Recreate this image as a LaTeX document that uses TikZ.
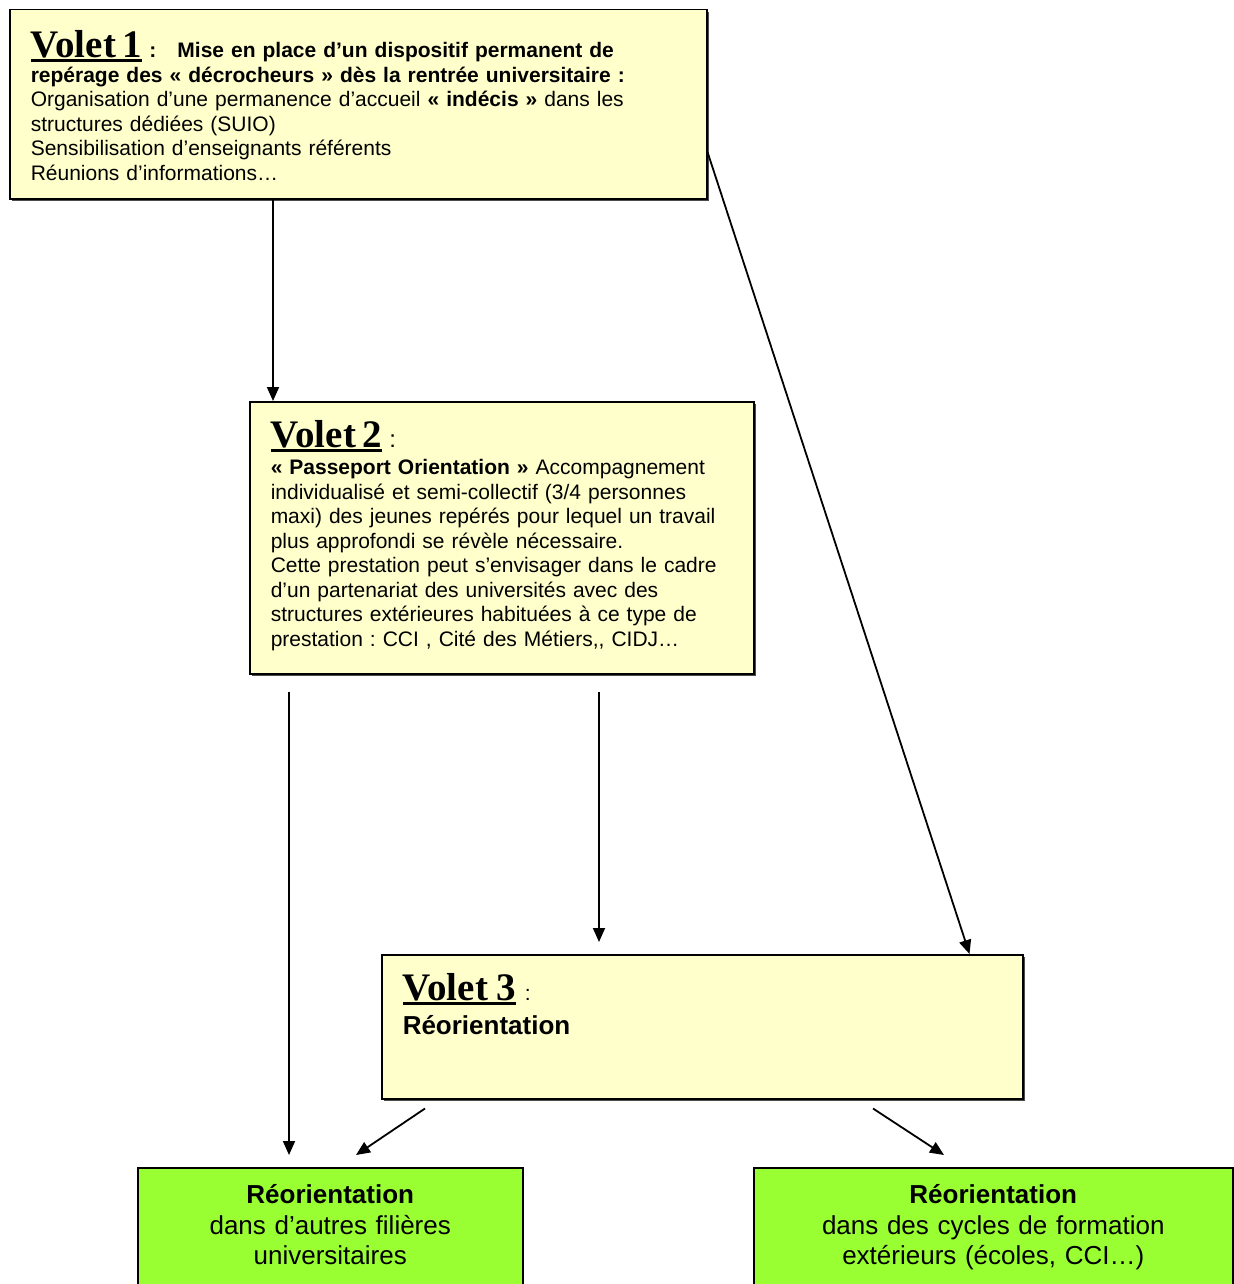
\documentclass[tikz,border=0pt]{standalone}
\usepackage{fontspec}
\setmainfont{Liberation Sans}
\newfontfamily\voletfont{Liberation Serif}
\usetikzlibrary{arrows.meta,shadows}
\definecolor{voletyellow}{HTML}{FFFFCC}
\definecolor{reogreen}{HTML}{99FF33}
\frenchspacing
% underlined serif heading of each "Volet"
\newcommand{\volettitle}[1]{\setbox0\hbox{\voletfont\bfseries\fontsize{19.5}{21}\selectfont #1}\rlap{\rule[-2pt]{\wd0}{1.35pt}}\box0}

\begin{document}
\begin{tikzpicture}[x=0.5pt, y=-0.5pt,
    volet/.style={draw=black, line width=0.75pt, fill=voletyellow, anchor=north west,
        inner xsep=10.5pt, inner ysep=0pt, align=left,
        font=\fontsize{10.5}{12.25}\selectfont,
        drop shadow={shadow xshift=0.9pt, shadow yshift=-0.9pt, fill=black, opacity=0.7}},
    reo/.style={draw=black, line width=0.75pt, fill=reogreen, anchor=north west,
        inner xsep=5pt, inner ysep=0pt, align=center,
        font=\fontsize{13}{15.25}\selectfont},
    arr/.style={-{Triangle[length=7pt,width=6pt]}, line width=0.9pt}]

    \useasboundingbox (0,0) rectangle (1233,1284);

    % Volet 1
    \node[volet, text width=327.5pt, text height=24pt, text depth=70.5pt] (v1) at (9,9)
        {\volettitle{Volet 1}\ \textbf{:}\quad\textbf{Mise en place d’un dispositif permanent de}\\
         \textbf{repérage des «~décrocheurs~» dès la rentrée universitaire :}\\
         Organisation d’une permanence d’accueil \textbf{«~indécis~»} dans les\\
         structures dédiées (SUIO)\\
         Sensibilisation d’enseignants référents\\
         Réunions d’informations…};

    % Volet 2
    \node[volet, text width=231pt, text height=23pt, text depth=113pt] (v2) at (249,401)
        {\volettitle{Volet 2}\ {\fontsize{12}{12}\selectfont :}\\[1.3pt]
         \textbf{«~Passeport Orientation~»} Accompagnement\\
         individualisé et semi-collectif (3/4 personnes\\
         maxi) des jeunes repérés pour lequel un travail\\
         plus approfondi se révèle nécessaire.\\
         Cette prestation peut s’envisager dans le cadre\\
         d’un partenariat des universités avec des\\
         structures extérieures habituées à ce type de\\
         prestation : CCI , Cité des Métiers,{},{} CIDJ…};

    % Volet 3
    \node[volet, text width=299.5pt, text height=23pt, text depth=49pt,
          font=\fontsize{13}{17}\selectfont] (v3) at (381,954)
        {\volettitle{Volet 3}{\fontsize{10.5}{12}\selectfont\ :}\\
         \textbf{Réorientation}};

    % Reorientation outcomes
    \node[reo, text width=182.5pt, text height=18pt, text depth=53pt] (reo1) at (137,1167)
        {\textbf{Réorientation}\\dans d’autres filières\\universitaires};
    \node[reo, text width=229.5pt, text height=18pt, text depth=53pt] (reo2) at (753,1167)
        {\textbf{Réorientation}\\dans des cycles de formation\\extérieurs (écoles, CCI…)};

    % free ends of the loose arrows
    \coordinate (v2out1) at ([xshift=20pt, yshift=-8.5pt]v2.south west);
    \coordinate (v2out2) at ([xshift=175pt, yshift=-8.5pt]v2.south west);
    \coordinate (v3out1) at ([xshift=22pt, yshift=-4.5pt]v3.south west);
    \coordinate (v3out2) at ([xshift=246pt, yshift=-4.5pt]v3.south west);
    \coordinate (reo1in1) at ([xshift=76pt, yshift=6pt]reo1.north west);
    \coordinate (reo1in2) at ([xshift=109.5pt, yshift=6pt]reo1.north west);
    \coordinate (reo2in) at ([xshift=95.5pt, yshift=6pt]reo2.north west);
    \coordinate (v3in) at ([xshift=109pt, yshift=6pt]v3.north west);

    \draw[arr] ([xshift=132pt]v1.south west) -- ([xshift=12pt]v2.north west);
    \draw[arr] ([yshift=-71.5pt]v1.north east) -- ([xshift=-27pt]v3.north east);
    \draw[arr] (v2out1) -- (reo1in1);
    \draw[arr] (v2out2) -- (v3in);
    \draw[arr] (v3out1) -- (reo1in2);
    \draw[arr] (v3out2) -- (reo2in);
\end{tikzpicture}
\end{document}
